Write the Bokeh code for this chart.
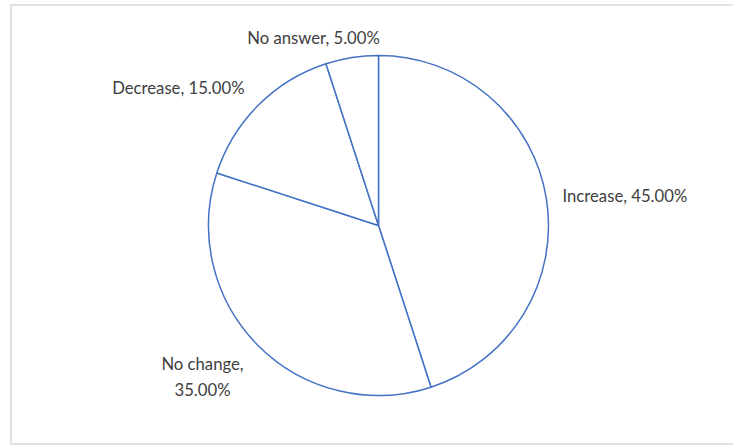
import math
from bokeh.plotting import figure
from bokeh.models import Range1d, ColumnDataSource
from bokeh.core.properties import value
from bokeh.embed import file_html
from bokeh.resources import INLINE

# data
categories = ["Increase", "No change", "Decrease", "No answer"]
shares = [45.0, 35.0, 15.0, 5.0]

# layout (pixel positions of label anchors, from top-left)
label_x = [562, 202, 244, 313]
label_y = [195, 376, 87, 37]
label_align = ["left", "center", "right", "center"]

W, H = 733, 445
CX, CY, R = 378, H - 225, 170

p = figure(width=W, height=H, output_backend="svg", toolbar_location=None,
           x_range=Range1d(0, W), y_range=Range1d(0, H), min_border=0)
p.axis.visible = False
p.grid.visible = False
p.outline_line_color = None
p.background_fill_color = "white"
p.border_fill_color = "white"

# chart border
p.quad(left=[10.5], right=[W + 20], top=[H - 4.5], bottom=[H - 443.5],
       fill_color=None, line_color="#D9D9D9", line_width=1.5)

total = sum(shares)
starts, ends = [], []
acc = 0.0
for s in shares:
    a0 = math.pi / 2 - 2 * math.pi * acc / total
    acc += s
    a1 = math.pi / 2 - 2 * math.pi * acc / total
    starts.append(a0)
    ends.append(a1)

src = ColumnDataSource(dict(start=starts, end=ends, cat=categories))
p.wedge(x=CX, y=CY, radius=R, start_angle="start", end_angle="end",
        direction="clock", source=src, fill_color="white",
        line_color="#4472C4", line_width=1.5)

for i, (c, s) in enumerate(zip(categories, shares)):
    txt = f"{c}, {s:.2f}%"
    if c == "No change":
        txt = f"{c},\n{s:.2f}%"
    p.text(x=[label_x[i]], y=[H - label_y[i]], text=[txt],
           text_font=value("Lato"), text_font_size="16.7px",
           text_color="#404040", text_align=label_align[i],
           text_baseline="middle", text_line_height=1.3)

open("out.html", "w").write(file_html(p, INLINE))
